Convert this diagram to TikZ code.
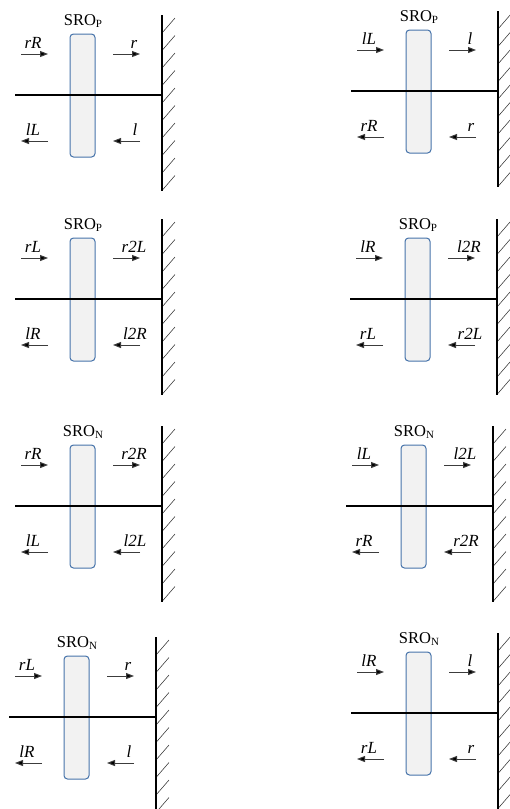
\documentclass[tikz,border=0pt]{standalone}
\usepackage{fontspec}
\setmainfont{Liberation Serif}
\usetikzlibrary{arrows.meta}
\definecolor{boxblue}{RGB}{70,115,170}
\definecolor{boxfill}{RGB}{242,242,242}
\definecolor{arrgray}{RGB}{60,60,60}
\tikzset{
  wallline/.style={line width=2pt,black},
  hatchline/.style={line width=0.55pt,black!80},
  axisline/.style={line width=1.5pt,black},
  oscbox/.style={draw=boxblue,fill=boxfill,line width=1pt,rounded corners=3.5pt,
    minimum width=25pt,minimum height=123pt,inner sep=0pt},
  srolabel/.style={font=\fontsize{16.5}{16.5}\selectfont,inner sep=0pt},
  beamlabel/.style={font=\fontsize{17}{17}\selectfont\itshape,inner sep=0pt,anchor=base},
  beam/.style={line width=1pt,arrgray,-{Triangle[length=8pt,width=6pt,fill=black]}},
}
\newcommand\mysub[1]{{\fontsize{11}{11}\selectfont\raisebox{-1.5pt}{#1}}}
% #1 name, #2 wall x, #3 line y, #4 subscript, #5 TL, #6 TR, #7 BL, #8 BR
\newcommand\mypanel[8]{%
\begin{scope}[shift={(#2,#3)}]
  \coordinate (#1wt) at (0,-80);
  \coordinate (#1wb) at (0,96);
  \coordinate (#1ll) at (-147,0);
  \coordinate (#1lr) at (0,0);
  \foreach \k in {0,...,9}{
    \draw[hatchline] (0,-62+17.5*\k) -- ++(13,-15);
  }
  \node[oscbox] (#1box) at (-79.5,0.5) {};
  \draw[axisline] (#1ll) -- (#1lr);
  \draw[wallline] (#1wt) -- (#1wb);
  \node[srolabel] (#1sro) at (-79,-74) {SRO\mysub{#4}};
  \coordinate (#1a1s) at (-141,-41); \coordinate (#1a1e) at (-114,-41);
  \coordinate (#1a2s) at (-49,-41);  \coordinate (#1a2e) at (-22,-41);
  \coordinate (#1a3s) at (-114,46);  \coordinate (#1a3e) at (-141,46);
  \coordinate (#1a4s) at (-22,46);   \coordinate (#1a4e) at (-49,46);
  \draw[beam] (#1a1s) -- (#1a1e);
  \draw[beam] (#1a2s) -- (#1a2e);
  \draw[beam] (#1a3s) -- (#1a3e);
  \draw[beam] (#1a4s) -- (#1a4e);
  \node[beamlabel] (#1t1) at (-129,-47) {#5};
  \node[beamlabel] (#1t2) at (-28,-47) {#6};
  \node[beamlabel] (#1t3) at (-129,40) {#7};
  \node[beamlabel] (#1t4) at (-27,40) {#8};
\end{scope}}
\begin{document}
\begin{tikzpicture}[x=1pt,y=-1pt]
\useasboundingbox (0,0) rectangle (509,809);
\mypanel{A}{162}{95}{P}{rR}{r}{lL}{l}
\mypanel{B}{498}{91}{P}{lL}{l}{rR}{r}
\mypanel{C}{162}{299}{P}{rL}{r2L}{lR}{l2R}
\mypanel{D}{497}{299}{P}{lR}{l2R}{rL}{r2L}
\mypanel{E}{162}{506}{N}{rR}{r2R}{lL}{l2L}
\mypanel{F}{493}{506}{N}{lL}{l2L}{rR}{r2R}
\mypanel{G}{156}{717}{N}{rL}{r}{lR}{l}
\mypanel{H}{498}{713}{N}{lR}{l}{rL}{r}
\end{tikzpicture}
\end{document}
